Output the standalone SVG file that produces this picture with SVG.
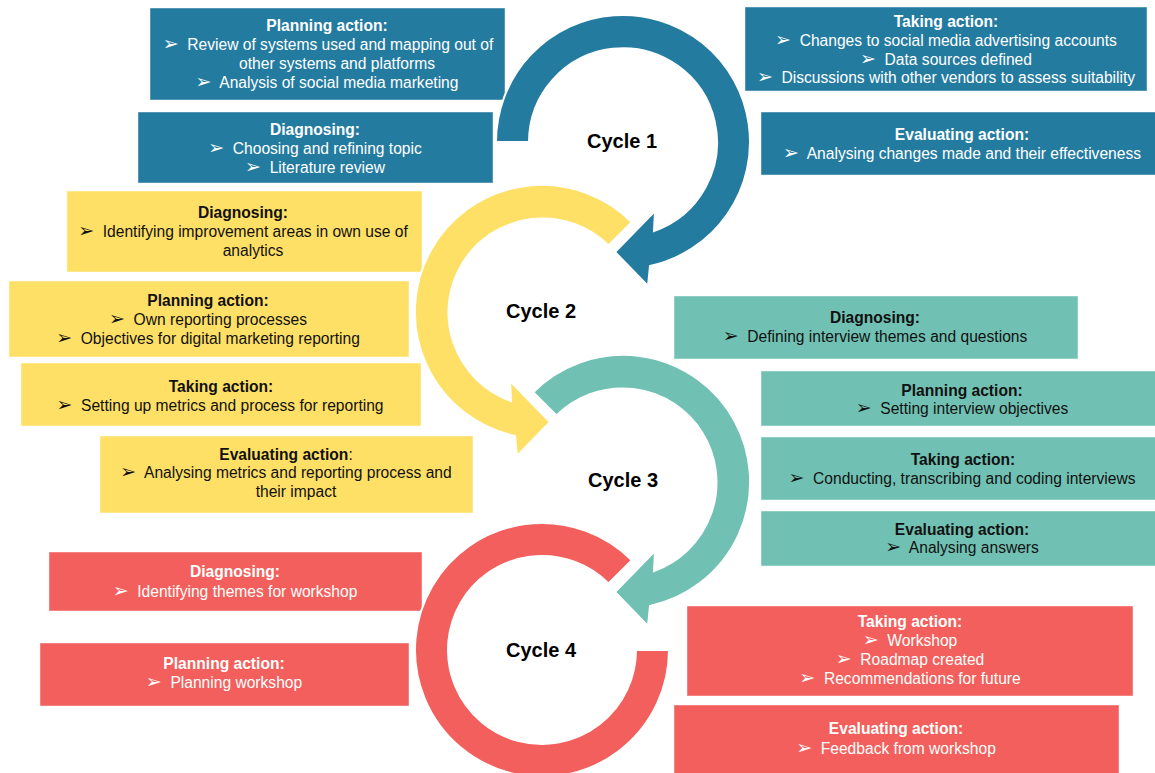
<svg xmlns="http://www.w3.org/2000/svg" width="1155" height="773" viewBox="0 0 1155 773">
  <style>
    .box { stroke: #ffffff; stroke-opacity: 0.45; stroke-width: 1; }
    .blue { fill: #247BA0; }
    .yellow { fill: #FFE066; }
    .teal { fill: #70C1B3; }
    .red { fill: #F25F5C; }
    .ring { stroke: #ffffff; stroke-width: 2; stroke-linejoin: miter; }
    text { font-family: "Liberation Sans", Arial, "DejaVu Sans", sans-serif; font-size: 15.6px; text-anchor: middle; }
    .h { font-weight: bold; }
    .b { font-family: "DejaVu Sans", sans-serif; font-size: 19px; }
    .w { fill: #ffffff; }
    .k { fill: #111111; }
    .cyc { font-size: 20px; font-weight: bold; fill: #000000; }
  </style>

  <!-- Cycle 1 (blue) -->
  <g id="plan1">
    <rect class="box blue" x="150" y="8" width="355" height="92"/>
    <text class="w"><tspan class="h" x="327" y="31">Planning action:</tspan><tspan x="328" y="50"><tspan class="b">➢</tspan>&#160; Review of systems used and mapping out of</tspan><tspan x="337" y="69">other systems and platforms</tspan><tspan x="327" y="88"><tspan class="b">➢</tspan>&#160; Analysis of social media marketing</tspan></text>
  </g>
  <g id="diag1">
    <rect class="box blue" x="138" y="112" width="355" height="71"/>
    <text class="w"><tspan class="h" x="315" y="135">Diagnosing:</tspan><tspan x="315" y="154"><tspan class="b">➢</tspan>&#160; Choosing and refining topic</tspan><tspan x="315" y="173"><tspan class="b">➢</tspan>&#160; Literature review</tspan></text>
  </g>
  <g id="take1">
    <rect class="box blue" x="745" y="7" width="402" height="84"/>
    <text class="w"><tspan class="h" x="946" y="27">Taking action:</tspan><tspan x="946" y="46"><tspan class="b">➢</tspan>&#160; Changes to social media advertising accounts</tspan><tspan x="946" y="65"><tspan class="b">➢</tspan>&#160; Data sources defined</tspan><tspan x="946" y="83"><tspan class="b">➢</tspan>&#160; Discussions with other vendors to assess suitability</tspan></text>
  </g>
  <g id="eval1">
    <rect class="box blue" x="761" y="112" width="396" height="63"/>
    <text class="w"><tspan class="h" x="962" y="140">Evaluating action:</tspan><tspan x="962" y="159"><tspan class="b">➢</tspan>&#160; Analysing changes made and their effectiveness</tspan></text>
  </g>

  <!-- Cycle 2 (yellow) -->
  <g id="diag2">
    <rect class="box yellow" x="67" y="191" width="355" height="81"/>
    <text class="k"><tspan class="h" x="243" y="218">Diagnosing:</tspan><tspan x="243" y="237"><tspan class="b">➢</tspan>&#160; Identifying improvement areas in own use of</tspan><tspan x="253" y="256">analytics</tspan></text>
  </g>
  <g id="plan2">
    <rect class="box yellow" x="9" y="281" width="400" height="76"/>
    <text class="k"><tspan class="h" x="208" y="306">Planning action:</tspan><tspan x="208" y="325"><tspan class="b">➢</tspan>&#160; Own reporting processes</tspan><tspan x="208" y="344"><tspan class="b">➢</tspan>&#160; Objectives for digital marketing reporting</tspan></text>
  </g>
  <g id="take2">
    <rect class="box yellow" x="21" y="363" width="400" height="63"/>
    <text class="k"><tspan class="h" x="221" y="392">Taking action:</tspan><tspan x="220" y="411"><tspan class="b">➢</tspan>&#160; Setting up metrics and process for reporting</tspan></text>
  </g>
  <g id="eval2">
    <rect class="box yellow" x="100" y="436" width="373" height="77"/>
    <text class="k"><tspan x="286" y="460"><tspan class="h">Evaluating action</tspan>:</tspan><tspan x="286" y="478"><tspan class="b">➢</tspan>&#160; Analysing metrics and reporting process and</tspan><tspan x="296" y="497">their impact</tspan></text>
  </g>

  <!-- Cycle 3 (teal) -->
  <g id="diag3">
    <rect class="box teal" x="674" y="296" width="404" height="63"/>
    <text class="k"><tspan class="h" x="875" y="323">Diagnosing:</tspan><tspan x="875" y="342"><tspan class="b">➢</tspan>&#160; Defining interview themes and questions</tspan></text>
  </g>
  <g id="plan3">
    <rect class="box teal" x="761" y="371" width="396" height="55"/>
    <text class="k"><tspan class="h" x="962" y="396">Planning action:</tspan><tspan x="962" y="414"><tspan class="b">➢</tspan>&#160; Setting interview objectives</tspan></text>
  </g>
  <g id="take3">
    <rect class="box teal" x="761" y="437" width="396" height="63"/>
    <text class="k"><tspan class="h" x="963" y="465">Taking action:</tspan><tspan x="962" y="484"><tspan class="b">➢</tspan>&#160; Conducting, transcribing and coding interviews</tspan></text>
  </g>
  <g id="eval3">
    <rect class="box teal" x="761" y="511" width="396" height="55"/>
    <text class="k"><tspan class="h" x="962" y="535">Evaluating action:</tspan><tspan x="962" y="553"><tspan class="b">➢</tspan>&#160; Analysing answers</tspan></text>
  </g>

  <!-- Cycle 4 (red) -->
  <g id="diag4">
    <rect class="box red" x="49" y="552" width="373" height="59"/>
    <text class="w"><tspan class="h" x="235" y="577">Diagnosing:</tspan><tspan x="235" y="597"><tspan class="b">➢</tspan>&#160; Identifying themes for workshop</tspan></text>
  </g>
  <g id="plan4">
    <rect class="box red" x="40" y="643" width="369" height="63"/>
    <text class="w"><tspan class="h" x="224" y="669">Planning action:</tspan><tspan x="224" y="688"><tspan class="b">➢</tspan>&#160; Planning workshop</tspan></text>
  </g>
  <g id="take4">
    <rect class="box red" x="687" y="606" width="446" height="90"/>
    <text class="w"><tspan class="h" x="910" y="627">Taking action:</tspan><tspan x="910" y="646"><tspan class="b">➢</tspan>&#160; Workshop</tspan><tspan x="910" y="665"><tspan class="b">➢</tspan>&#160; Roadmap created</tspan><tspan x="910" y="684"><tspan class="b">➢</tspan>&#160; Recommendations for future</tspan></text>
  </g>
  <g id="eval4">
    <rect class="box red" x="674" y="705" width="445" height="70"/>
    <text class="w"><tspan class="h" x="896" y="734">Evaluating action:</tspan><tspan x="896" y="754"><tspan class="b">➢</tspan>&#160; Feedback from workshop</tspan></text>
  </g>

  <!-- circular arrows linking the cycles -->
  <g id="connectors">
    <path id="arc1" class="ring blue" d="M 496,142 A 127 127 0 1 1 650,266 L 648,286 L 615,252 L 655,211 L 654,231 A 94 94 0 1 0 529,142 Z"/>
    <path id="arc2" class="ring yellow" d="M 631.8,222.2 A 127 127 0 1 0 515,436 L 517,456 L 550,422 L 510,381 L 511,401 A 94 94 0 1 1 608.5,245.5 Z"/>
    <path id="arc3" class="ring teal" d="M 533.2,392.2 A 127 127 0 1 1 650,606 L 648,626 L 615,592 L 655,551 L 654,571 A 94 94 0 1 0 556.5,415.5 Z"/>
    <path id="arc4" class="ring red" d="M 631.8,560.2 A 127 127 0 1 0 669,650 L 636,650 A 94 94 0 1 1 608.5,583.5 Z"/>
  </g>

  <!-- cycle labels -->
  <g id="cycle1"><text class="cyc" x="622" y="148">Cycle 1</text></g>
  <g id="cycle2"><text class="cyc" x="541" y="318">Cycle 2</text></g>
  <g id="cycle3"><text class="cyc" x="623" y="487">Cycle 3</text></g>
  <g id="cycle4"><text class="cyc" x="541" y="657">Cycle 4</text></g>
</svg>
